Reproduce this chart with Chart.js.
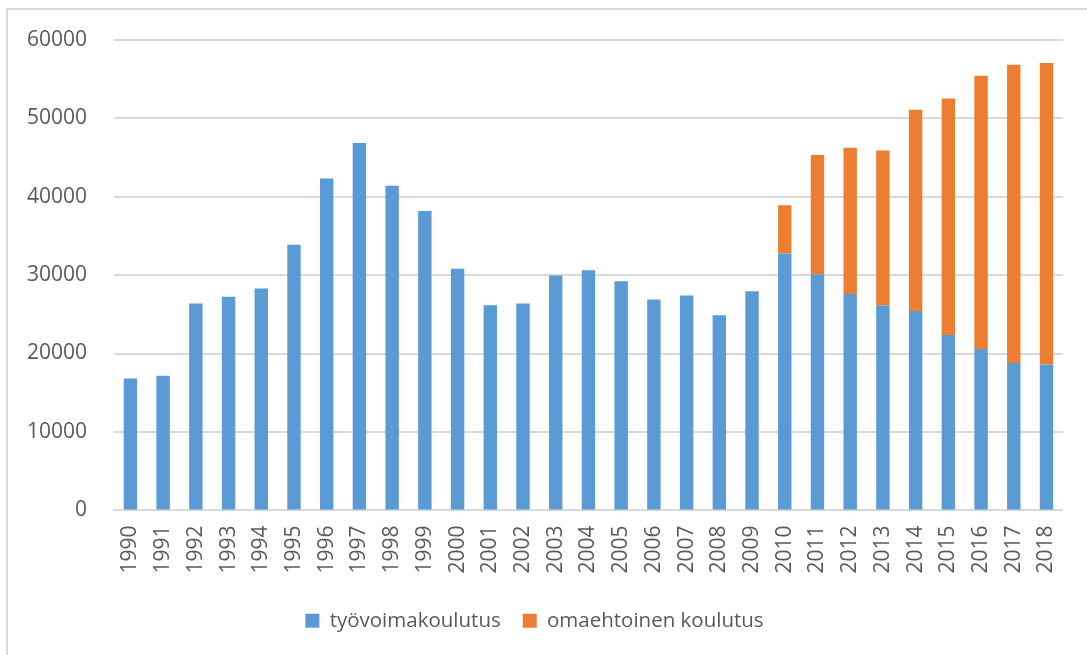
<!DOCTYPE html>
<html>
<head>
<meta charset="utf-8">
<script src="https://cdn.jsdelivr.net/npm/chart.js@4/dist/chart.umd.min.js"></script>
<style>
  html, body { margin: 0; padding: 0; background: #fff; }
  #wrap { position: relative; width: 1087px; height: 655px; }
  #frame { position: absolute; left: 6px; top: 8px; right: 0; bottom: 0;
           border-left: 2px solid #d9d9d9; border-top: 2px solid #d9d9d9; }
  canvas { position: absolute; left: 0; top: 0; }
</style>
</head>
<body>
<div id="wrap">
  <div id="frame"></div>
  <canvas id="chart" width="1087" height="655"></canvas>
</div>
<script>
const years = ["1990","1991","1992","1993","1994","1995","1996","1997","1998","1999",
  "2000","2001","2002","2003","2004","2005","2006","2007","2008","2009",
  "2010","2011","2012","2013","2014","2015","2016","2017","2018"];

// työvoimakoulutus
const tyovoima = [16820, 17170, 26370, 27220, 28280, 33860, 42290, 46810, 41390, 38160,
  30790, 26150, 26370, 29940, 30620, 29220, 26880, 27390, 24870, 27940,
  32750, 30110, 27590, 26110, 25420, 22360, 20570, 18780, 18610];

// omaehtoinen koulutus (alkaa 2010)
const omaehtoinen = [0, 0, 0, 0, 0, 0, 0, 0, 0, 0,
  0, 0, 0, 0, 0, 0, 0, 0, 0, 0,
  6140, 15200, 18620, 19750, 25640, 30140, 34830, 38030, 38410];

const yTicks = [0, 10000, 20000, 30000, 40000, 50000, 60000];

const textColor = "#595959";
const fontFamily = "'Open Sans', 'Liberation Sans', sans-serif";

new Chart(document.getElementById("chart").getContext("2d"), {
  type: "bar",
  data: {
    labels: years,
    datasets: [
      {
        label: "työvoimakoulutus",
        data: tyovoima,
        backgroundColor: "#5b9bd5",
        barPercentage: 0.41,
        categoryPercentage: 1
      },
      {
        label: "omaehtoinen koulutus",
        data: omaehtoinen,
        backgroundColor: "#ed7d31",
        barPercentage: 0.41,
        categoryPercentage: 1
      }
    ]
  },
  options: {
    responsive: false,
    animation: false,
    layout: { padding: { left: 0, right: 18, top: 29, bottom: 14 } },
    plugins: {
      tooltip: { enabled: false },
      legend: {
        position: "bottom",
        labels: {
          color: textColor,
          font: { family: fontFamily, size: 20.5 },
          boxWidth: 14,
          boxHeight: 14,
          padding: 22
        }
      }
    },
    scales: {
      x: {
        stacked: true,
        grid: { display: false, drawTicks: false },
        border: { color: "#d9d9d9", width: 2 },
        ticks: {
          color: textColor,
          font: { family: fontFamily, size: 21 },
          maxRotation: 90,
          minRotation: 90,
          padding: 15,
          autoSkip: false
        }
      },
      y: {
        stacked: true,
        min: 0,
        max: 60000,
        afterBuildTicks: axis => { axis.ticks = yTicks.map(v => ({ value: v })); },
        grid: { color: "#d9d9d9", lineWidth: 2, drawTicks: false },
        border: { display: false },
        ticks: {
          color: textColor,
          font: { family: fontFamily, size: 21 },
          padding: 27,
          callback: v => String(v)
        }
      }
    }
  }
});
</script>
</body>
</html>
